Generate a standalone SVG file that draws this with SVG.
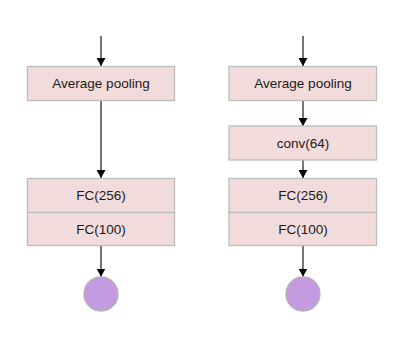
<svg xmlns="http://www.w3.org/2000/svg" width="404" height="338" viewBox="0 0 404 338">
<style>
.box{fill:#f2dcdb;stroke:#bcbcbc;stroke-width:1.3}
.out{fill:#c49be0;stroke:#b3b3b3;stroke-width:1.3}
.lbl{font-family:"Liberation Sans",Arial,sans-serif;font-size:13.5px;fill:#1a1a1a;text-anchor:middle}
.edge{stroke:#1a1a1a;stroke-width:1.2;fill:none;marker-end:url(#ah)}
</style>
<defs>
<marker id="ah" markerWidth="8" markerHeight="9" refX="8" refY="4.5" orient="auto" markerUnits="userSpaceOnUse">
<path d="M0,0 L8,4.5 L0,9 Z" fill="#000"/>
</marker>
</defs>
<rect width="404" height="338" fill="#fff"/>
<g id="connectors">
<line class="edge" x1="101" y1="36" x2="101" y2="66"/>
<line class="edge" x1="101" y1="100.5" x2="101" y2="178"/>
<line class="edge" x1="101" y1="246" x2="101" y2="276.5"/>
<line class="edge" x1="303" y1="36" x2="303" y2="66"/>
<line class="edge" x1="303" y1="100.5" x2="303" y2="126"/>
<line class="edge" x1="303" y1="160" x2="303" y2="178"/>
<line class="edge" x1="303" y1="246" x2="303" y2="276.5"/>
</g>
<g id="left-avgpool"><rect class="box" x="27.5" y="66.5" width="147" height="34"/><text class="lbl" x="101" y="88.3">Average pooling</text></g>
<g id="left-fc256"><rect class="box" x="27.5" y="178.5" width="147" height="34"/><text class="lbl" x="101" y="200.3">FC(256)</text></g>
<g id="left-fc100"><rect class="box" x="27.5" y="212.5" width="147" height="33"/><text class="lbl" x="101" y="233.8">FC(100)</text></g>
<g id="left-out"><circle class="out" cx="101" cy="294" r="17"/></g>
<g id="right-avgpool"><rect class="box" x="229" y="66.5" width="147.5" height="34"/><text class="lbl" x="303" y="88.3">Average pooling</text></g>
<g id="right-conv"><rect class="box" x="229" y="126" width="147.5" height="34"/><text class="lbl" x="303" y="147.8">conv(64)</text></g>
<g id="right-fc256"><rect class="box" x="229" y="178.5" width="147.5" height="34"/><text class="lbl" x="303" y="200.3">FC(256)</text></g>
<g id="right-fc100"><rect class="box" x="229" y="212.5" width="147.5" height="33"/><text class="lbl" x="303" y="233.8">FC(100)</text></g>
<g id="right-out"><circle class="out" cx="303" cy="294" r="17"/></g>
</svg>
